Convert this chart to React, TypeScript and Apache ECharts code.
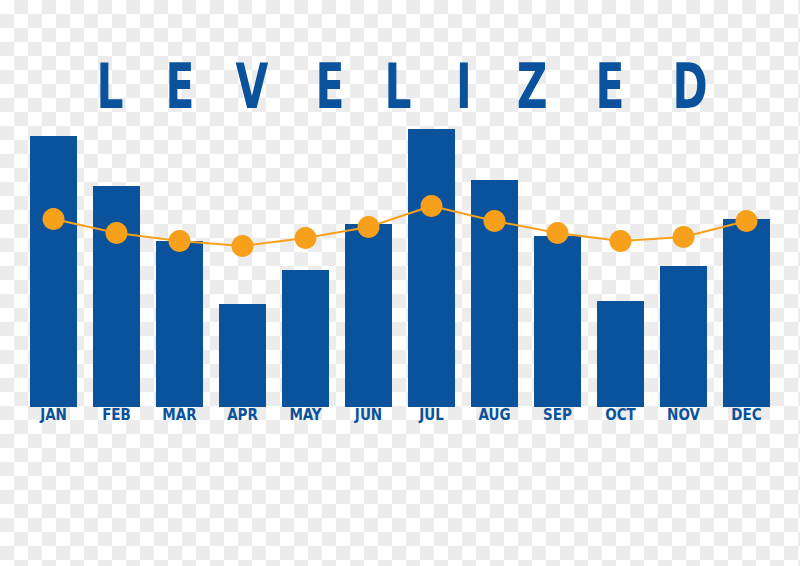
import React, { useEffect, useRef } from "react";
import * as echarts from "echarts";

const months = ["JAN", "FEB", "MAR", "APR", "MAY", "JUN", "JUL", "AUG", "SEP", "OCT", "NOV", "DEC"];
const actualUsage = [271, 221, 166, 103, 137, 183, 278, 227, 171, 106, 141, 188];
const levelizedUsage = [188, 174, 166, 161, 169, 180, 201, 186, 174, 166, 170, 186];
const titleLetters = ["L", "E", "V", "E", "L", "I", "Z", "E", "D"];
const titleLetterCenters = [110, 180, 252, 330, 398, 464, 532, 610, 690];

const BLUE = "#0a539c";
const ORANGE = "#f7a01c";

export default function App() {
  const ref = useRef<HTMLDivElement>(null);
  useEffect(() => {
    if (!ref.current) return;
    const chart = echarts.init(ref.current, undefined, { renderer: "svg" });
    chart.setOption({
      animation: false,
      grid: { left: 22, right: 22, top: 107, bottom: 159 },
      xAxis: {
        type: "category",
        data: months,
        axisLine: { show: false },
        axisTick: { show: false },
        axisLabel: {
          color: BLUE,
          fontSize: 15,
          fontWeight: "bold",
          fontFamily: "'DejaVu Sans Condensed', 'DejaVu Sans', sans-serif",
          margin: 0,
        },
      },
      yAxis: { type: "value", min: 0, max: 300, show: false, splitLine: { show: false } },
      graphic: titleLetters.map((t, i) => ({
        type: "text",
        x: titleLetterCenters[i],
        y: 87,
        scaleX: 0.76,
        style: {
          text: t,
          x: 0,
          y: 0,
          align: "center",
          verticalAlign: "middle",
          fill: BLUE,
          font: "bold 62px 'DejaVu Sans Condensed', 'DejaVu Sans', sans-serif",
        },
      })),
      series: [
        {
          type: "bar",
          data: actualUsage,
          barWidth: 47,
          itemStyle: { color: BLUE },
          z: 2,
        },
        {
          type: "line",
          data: levelizedUsage,
          symbol: "circle",
          symbolSize: 22,
          itemStyle: { color: ORANGE },
          lineStyle: { color: ORANGE, width: 2 },
          z: 3,
        },
      ],
    });
    return () => chart.dispose();
  }, []);
  return (
    <div
      style={{
        position: "fixed",
        left: 0,
        top: 0,
        width: 800,
        height: 566,
        backgroundColor: "#ffffff",
        backgroundImage:
          "conic-gradient(#ececec 25%, #ffffff 0 50%, #ececec 0 75%, #ffffff 0)",
        backgroundSize: "28px 28px",
      }}
    >
      <div ref={ref} style={{ width: 800, height: 566 }} />
    </div>
  );
}
